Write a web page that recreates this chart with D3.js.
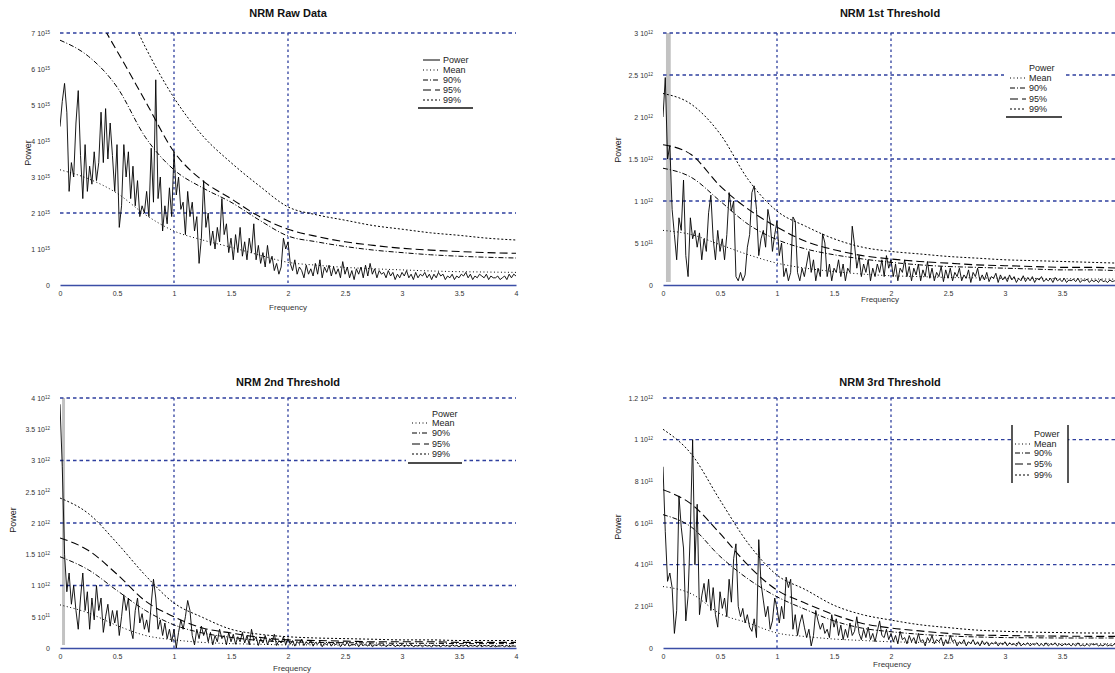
<!DOCTYPE html>
<html>
<head>
<meta charset="utf-8">
<script src="https://cdn.jsdelivr.net/npm/d3@7"></script>
<style>
  body { margin: 0; background: #fff; }
  svg { display: block; font-family: "Liberation Sans", Arial, sans-serif; }
</style>
</head>
<body>
<svg id="chart" width="1115" height="673"></svg>
<script>
// ---------- shared axes ----------
const freqTicks = [0, 0.5, 1, 1.5, 2, 2.5, 3, 3.5, 4];
const freqTickLabels = ["0", "0.5", "1", "1.5", "2", "2.5", "3", "3.5", "4"];
const freqGrid = [1, 2];
// frequencies at which the significance curves are given
const curveFreq = [0, 0.25, 0.5, 0.75, 1, 1.25, 1.5, 1.75, 2, 2.25, 2.5, 2.75, 3, 3.25, 3.5, 3.75, 4];
// power spectra are sampled every 0.02 cycles
const powerStep = 0.02;

// ---------- NRM raw data (units of 1e15) ----------
const rawTicks = [0, 1, 2, 3, 4, 5, 6, 7];
const rawTickLabels = [["0", ""], ["1", "15"], ["2", "15"], ["3", "15"], ["4", "15"], ["5", "15"], ["6", "15"], ["7", "15"]];
const rawGrid = [2, 7];
const rawMean = [3.2, 2.95, 2.55, 1.95, 1.5, 1.25, 1.05, 0.83, 0.63, 0.55, 0.49, 0.45, 0.42, 0.39, 0.37, 0.36, 0.35];
const raw90 = [6.8, 6.35, 5.5, 4.1, 3.2, 2.7, 2.3, 1.8, 1.36, 1.2, 1.07, 0.97, 0.9, 0.84, 0.8, 0.77, 0.75];
const raw95 = [8.6, 7.8, 6.5, 5.1, 3.7, 2.9, 2.4, 1.9, 1.55, 1.35, 1.2, 1.1, 1.02, 0.97, 0.93, 0.9, 0.88];
const raw99 = [10.5, 9.8, 8.3, 6.6, 5.2, 4.15, 3.4, 2.75, 2.17, 1.95, 1.8, 1.65, 1.55, 1.45, 1.38, 1.3, 1.25];
const rawPower = [
  4.4, 5.1, 5.6, 4.8, 2.6, 3.4, 3.0, 4.5, 5.4, 3.6,
  2.4, 3.9, 2.6, 3.3, 2.8, 3.7, 2.9, 3.4, 4.8, 3.4,
  4.9, 3.5, 4.5, 3.6, 2.6, 3.9, 1.6, 2.2, 3.9, 3.0,
  3.7, 2.4, 3.3, 2.2, 2.9, 1.9, 2.2, 2.0, 2.6, 1.9,
  3.8, 2.3, 5.7, 2.4, 3.0, 1.5, 2.2, 1.7, 2.7, 1.9,
  3.7, 2.5, 3.0, 2.1, 2.3, 1.4, 2.6, 1.9, 2.3, 1.5,
  1.9, 0.6, 1.3, 2.9, 1.6, 2.0, 1.1, 1.5, 1.0, 1.6,
  1.2, 2.4, 1.4, 1.7, 0.9, 1.3, 0.7, 1.4, 0.9, 1.6,
  0.8, 1.2, 0.7, 1.3, 0.9, 1.7, 0.7, 1.1, 0.6, 0.9,
  0.5, 1.1, 0.6, 0.8, 0.4, 0.6, 0.3, 0.5, 1.3, 1.0,
  1.2, 0.6, 0.4, 0.7, 0.3, 0.5, 0.4, 0.2, 0.55, 0.3,
  0.45, 0.25, 0.6, 0.3, 0.7, 0.2, 0.5, 0.35, 0.55, 0.25,
  0.5, 0.3, 0.45, 0.2, 0.65, 0.3, 0.5, 0.2, 0.4, 0.15,
  0.45, 0.3, 0.5, 0.2, 0.55, 0.25, 0.6, 0.3, 0.45, 0.2,
  0.4, 0.3, 0.35, 0.2, 0.4, 0.25, 0.35, 0.15, 0.3, 0.2,
  0.35, 0.25, 0.4, 0.2, 0.3, 0.15, 0.35, 0.2, 0.3, 0.25,
  0.35, 0.2, 0.3, 0.15, 0.3, 0.2, 0.35, 0.25, 0.3, 0.15,
  0.25, 0.2, 0.3, 0.15, 0.25, 0.2, 0.3, 0.25, 0.35, 0.2,
  0.3, 0.15, 0.25, 0.2, 0.3, 0.25, 0.2, 0.3, 0.15, 0.25,
  0.2, 0.2, 0.25, 0.15, 0.2, 0.25, 0.15, 0.3, 0.2, 0.3,
  0.25
];

// ---------- NRM 1st threshold (units of 1e12) ----------
const t1Ticks = [0, 0.5, 1, 1.5, 2, 2.5, 3];
const t1TickLabels = [["0", ""], ["5", "11"], ["1", "12"], ["1.5", "12"], ["2", "12"], ["2.5", "12"], ["3", "12"]];
const t1Grid = [1, 1.5, 2.5, 3];
const t1Band = [0.026, 0.068];
const t1Mean = [0.65, 0.6, 0.48, 0.36, 0.26, 0.2, 0.16, 0.13, 0.11, 0.1, 0.09, 0.085, 0.08, 0.078, 0.075, 0.072, 0.07];
const t190 = [1.39, 1.28, 1.0, 0.72, 0.54, 0.43, 0.36, 0.31, 0.27, 0.24, 0.22, 0.21, 0.2, 0.19, 0.18, 0.18, 0.17];
const t195 = [1.67, 1.55, 1.18, 0.9, 0.69, 0.52, 0.42, 0.35, 0.31, 0.28, 0.26, 0.24, 0.23, 0.22, 0.21, 0.21, 0.2];
const t199 = [2.28, 2.15, 1.8, 1.25, 0.88, 0.7, 0.55, 0.45, 0.4, 0.37, 0.34, 0.32, 0.3, 0.29, 0.28, 0.27, 0.26];
const t1Power = [
  2.0, 2.47, 1.5, 1.66, 0.9, 0.6, 0.3, 0.8, 0.65, 1.25,
  0.35, 0.1, 0.8, 0.55, 0.65, 0.45, 0.62, 0.3, 0.55, 0.4,
  0.86, 1.07, 0.55, 0.3, 0.65, 0.4, 0.55, 0.3, 0.6, 1.1,
  0.88, 1.0, 0.1, 0.05, 0.15, 0.05, 0.12, 0.45, 0.6, 1.1,
  1.18, 0.9, 0.35, 0.55, 0.65, 0.45, 0.9, 0.75, 0.4, 0.6,
  0.76, 0.35, 0.5, 0.1, 0.2, 0.05, 0.15, 0.81, 0.76, 0.15,
  0.05, 0.2, 0.1, 0.25, 0.4, 0.15, 0.3, 0.05, 0.2, 0.1,
  0.61, 0.5, 0.1, 0.25, 0.05, 0.2, 0.15, 0.3, 0.1, 0.25,
  0.05, 0.2, 0.15, 0.7, 0.48, 0.2, 0.35, 0.1, 0.25, 0.15,
  0.3, 0.05, 0.2, 0.1, 0.25, 0.15, 0.3, 0.1, 0.35, 0.2,
  0.3, 0.1, 0.25, 0.05, 0.2, 0.15, 0.3, 0.1, 0.22, 0.05,
  0.2, 0.12, 0.25, 0.05, 0.18, 0.1, 0.28, 0.08, 0.2, 0.05,
  0.15, 0.1, 0.22, 0.04, 0.18, 0.08, 0.2, 0.05, 0.15, 0.1,
  0.2, 0.05, 0.12, 0.08, 0.18, 0.03, 0.15, 0.1, 0.2, 0.05,
  0.12, 0.06, 0.15, 0.04, 0.1, 0.08, 0.14, 0.03, 0.12, 0.06,
  0.1, 0.04, 0.12, 0.06, 0.1, 0.03, 0.08, 0.05, 0.11, 0.04,
  0.09, 0.05, 0.1, 0.03, 0.08, 0.06, 0.1, 0.04, 0.07, 0.05,
  0.08, 0.03, 0.09, 0.05, 0.07, 0.04, 0.08, 0.03, 0.06, 0.05,
  0.07, 0.04, 0.08, 0.03, 0.06, 0.05, 0.07, 0.03, 0.06, 0.04,
  0.06, 0.03, 0.07, 0.04, 0.05, 0.03, 0.06, 0.04, 0.05, 0.03,
  0.05
];

// ---------- NRM 2nd threshold (units of 1e12) ----------
const t2Ticks = [0, 0.5, 1, 1.5, 2, 2.5, 3, 3.5, 4];
const t2TickLabels = [["0", ""], ["5", "11"], ["1", "12"], ["1.5", "12"], ["2", "12"], ["2.5", "12"], ["3", "12"], ["3.5", "12"], ["4", "12"]];
const t2Grid = [1, 2, 3, 4];
const t2Band = [0.018, 0.044];
const t2Mean = [0.69, 0.56, 0.36, 0.2, 0.13, 0.09, 0.07, 0.06, 0.05, 0.05, 0.045, 0.045, 0.04, 0.04, 0.04, 0.04, 0.04];
const t290 = [1.46, 1.25, 0.92, 0.6, 0.37, 0.24, 0.17, 0.12, 0.1, 0.09, 0.085, 0.08, 0.075, 0.075, 0.07, 0.07, 0.07];
const t295 = [1.76, 1.56, 1.18, 0.75, 0.5, 0.32, 0.24, 0.17, 0.13, 0.12, 0.11, 0.1, 0.1, 0.1, 0.09, 0.09, 0.09];
const t299 = [2.4, 2.15, 1.68, 1.16, 0.72, 0.49, 0.3, 0.22, 0.18, 0.16, 0.15, 0.14, 0.13, 0.13, 0.12, 0.12, 0.12];
const t2Power = [
  3.9, 2.9, 1.5, 0.9, 1.2, 0.7, 1.0, 0.6, 0.3, 0.8,
  1.2, 0.6, 0.9, 0.3, 0.8, 0.45, 1.0, 0.6, 0.8, 0.25,
  0.5, 0.7, 0.35, 0.6, 0.4, 0.6, 0.2, 0.5, 0.85, 0.6,
  0.8, 0.3, 0.15, 0.6, 0.8, 0.4, 0.55, 0.3, 0.45, 0.25,
  0.7, 1.1, 0.8, 0.3, 0.45, 0.2, 0.4, 0.15, 0.3, 0.1,
  0.3, 0.0, 0.25, 0.45, 0.3, 0.5, 0.76, 0.6, 0.2, 0.05,
  0.3, 0.15, 0.35, 0.2, 0.3, 0.1, 0.25, 0.05, 0.2, 0.1,
  0.3, 0.15, 0.2, 0.05, 0.25, 0.1, 0.22, 0.06, 0.18, 0.1,
  0.25, 0.08, 0.2, 0.05, 0.3, 0.12, 0.18, 0.04, 0.15, 0.08,
  0.2, 0.05, 0.15, 0.1, 0.22, 0.04, 0.12, 0.08, 0.18, 0.05,
  0.15, 0.06, 0.12, 0.03, 0.1, 0.07, 0.14, 0.04, 0.1, 0.06,
  0.12, 0.03, 0.09, 0.06, 0.11, 0.02, 0.08, 0.05, 0.1, 0.03,
  0.08, 0.05, 0.1, 0.02, 0.07, 0.04, 0.09, 0.03, 0.06, 0.05,
  0.08, 0.02, 0.07, 0.04, 0.06, 0.03, 0.08, 0.02, 0.05, 0.04,
  0.07, 0.03, 0.06, 0.02, 0.05, 0.04, 0.06, 0.02, 0.05, 0.03,
  0.06, 0.02, 0.05, 0.03, 0.06, 0.02, 0.04, 0.03, 0.05, 0.02,
  0.05, 0.03, 0.04, 0.02, 0.05, 0.03, 0.04, 0.02, 0.05, 0.03,
  0.04, 0.02, 0.05, 0.03, 0.04, 0.02, 0.04, 0.03, 0.05, 0.02,
  0.04, 0.03, 0.04, 0.02, 0.05, 0.02, 0.04, 0.03, 0.04, 0.02,
  0.04, 0.02, 0.03, 0.03, 0.04, 0.02, 0.04, 0.02, 0.03, 0.03,
  0.03
];

// ---------- NRM 3rd threshold (units of 1e11) ----------
const t3Ticks = [0, 2, 4, 6, 8, 10, 12];
const t3TickLabels = [["0", ""], ["2", "11"], ["4", "11"], ["6", "11"], ["8", "11"], ["1", "12"], ["1.2", "12"]];
const t3Grid = [4, 6, 10, 12];
const t3Mean = [2.95, 2.6, 1.65, 1.2, 0.72, 0.55, 0.43, 0.36, 0.3, 0.27, 0.25, 0.23, 0.22, 0.21, 0.2, 0.2, 0.2];
const t390 = [6.4, 5.8, 4.4, 3.3, 2.46, 1.85, 1.3, 0.95, 0.78, 0.66, 0.58, 0.53, 0.5, 0.49, 0.48, 0.48, 0.48];
const t395 = [7.6, 6.9, 5.5, 3.95, 2.78, 2.15, 1.6, 1.18, 0.96, 0.82, 0.7, 0.62, 0.6, 0.58, 0.57, 0.56, 0.56];
const t399 = [10.5, 9.3, 7.1, 5.0, 3.5, 2.8, 2.05, 1.6, 1.34, 1.12, 0.98, 0.86, 0.8, 0.76, 0.74, 0.72, 0.72];
const t3Power = [
  8.7, 5.6, 3.2, 3.6, 2.9, 0.7, 1.8, 7.3, 5.8, 4.8,
  1.3, 2.5, 5.7, 10.0, 4.0, 6.9, 1.6, 2.5, 3.1, 2.2,
  3.3, 1.8, 2.9, 1.6, 1.0, 2.7, 1.9, 2.4, 1.5, 3.3,
  2.2, 4.3, 5.0, 2.0, 1.5, 1.9, 1.2, 1.6, 1.0, 0.8,
  1.4, 0.5, 5.2, 3.1, 2.3, 1.5, 2.0, 0.9, 1.3, 2.4,
  1.9, 1.2, 2.0, 1.4, 3.4, 2.9, 3.3, 0.9, 1.6, 0.6,
  1.2, 1.6, 1.0, 0.5, 0.9, 0.1, 0.6, 1.8, 1.3, 0.9,
  1.2, 0.7, 0.9, 0.5, 1.6, 1.0, 1.4, 0.6, 1.1, 0.4,
  0.9, 0.5, 1.2, 0.6, 0.8, 1.5, 0.7, 0.4, 0.9, 0.5,
  1.0, 0.4, 0.7, 0.3, 0.8, 1.3, 0.6, 0.5, 0.9, 0.4,
  0.7, 0.3, 0.6, 0.2, 0.8, 0.4, 0.5, 0.2, 0.6, 0.3,
  0.5, 0.2, 0.7, 0.3, 0.4, 0.1, 0.5, 0.3, 0.6, 0.2,
  0.4, 0.3, 0.5, 0.1, 0.4, 0.2, 0.6, 0.3, 0.4, 0.1,
  0.3, 0.2, 0.4, 0.1, 0.3, 0.2, 0.4, 0.15, 0.3, 0.1,
  0.35, 0.15, 0.3, 0.1, 0.25, 0.2, 0.3, 0.1, 0.25, 0.15,
  0.3, 0.1, 0.25, 0.15, 0.2, 0.1, 0.3, 0.1, 0.2, 0.15,
  0.25, 0.1, 0.2, 0.15, 0.25, 0.1, 0.2, 0.1, 0.25, 0.1,
  0.2, 0.15, 0.25, 0.1, 0.2, 0.1, 0.2, 0.15, 0.2, 0.1,
  0.2, 0.1, 0.25, 0.1, 0.15, 0.1, 0.2, 0.1, 0.2, 0.15,
  0.2, 0.1, 0.15, 0.1, 0.2, 0.1, 0.15, 0.1, 0.2, 0.1,
  0.15
];

const legendNames = ["Power", "Mean", "90%", "95%", "99%"];

// ---------- line styles ----------
const styles = {
  power: { dash: null, width: 1 },
  mean:  { dash: "1,2.5", width: 1 },
  p90:   { dash: "5,2,1,2", width: 1 },
  p95:   { dash: "8,4", width: 1.1 },
  p99:   { dash: "2,2", width: 1 }
};
const gridColor = "#2e3f9e";
const axisColor = "#3b4ea6";
const pageWidth = 1115;

// ---------- panel layout ----------
const panels = [
  { id: "raw", title: "NRM Raw Data", x0: 60, x1: 516, yTop: 33, yBot: 285, yMax: 7,
    ticks: rawTicks, tickLabels: rawTickLabels, grid: rawGrid, band: null,
    mean: rawMean, p90: raw90, p95: raw95, p99: raw99, power: rawPower,
    titleXY: [288, 17], xLabelXY: [288, 310], yLabelXY: [31, 153],
    legend: { x: 416, y: 50, w: 59, rows: [60, 70, 80, 90, 100], under: 108, sx: 423, tx: 443, powerSample: true, sides: false } },
  { id: "t1", title: "NRM 1st Threshold", x0: 663, x1: 1119, yTop: 33, yBot: 285, yMax: 3,
    ticks: t1Ticks, tickLabels: t1TickLabels, grid: t1Grid, band: t1Band,
    mean: t1Mean, p90: t190, p95: t195, p99: t199, power: t1Power,
    titleXY: [890, 17], xLabelXY: [880, 302], yLabelXY: [621, 150],
    legend: { x: 1004, y: 58, w: 60, rows: [68, 78, 88, 99, 109], under: 117, sx: 1010, tx: 1029, powerSample: false, sides: false } },
  { id: "t2", title: "NRM 2nd Threshold", x0: 60, x1: 516, yTop: 398, yBot: 648, yMax: 4,
    ticks: t2Ticks, tickLabels: t2TickLabels, grid: t2Grid, band: t2Band,
    mean: t2Mean, p90: t290, p95: t295, p99: t299, power: t2Power,
    titleXY: [288, 386], xLabelXY: [292, 671], yLabelXY: [16, 520],
    legend: { x: 406, y: 404, w: 58, rows: [414, 423, 433, 444, 454], under: 463, sx: 412, tx: 432, powerSample: false, sides: false } },
  { id: "t3", title: "NRM 3rd Threshold", x0: 663, x1: 1119, yTop: 398, yBot: 648, yMax: 12,
    ticks: t3Ticks, tickLabels: t3TickLabels, grid: t3Grid, band: null,
    mean: t3Mean, p90: t390, p95: t395, p99: t399, power: t3Power,
    titleXY: [890, 386], xLabelXY: [892, 667], yLabelXY: [621, 527],
    legend: { x: 1012, y: 425, w: 56, rows: [434, 444, 453, 464, 475], under: null, bottom: 483, sx: 1015, tx: 1034, powerSample: false, sides: true } }
];

const svg = d3.select("#chart");
const defs = svg.append("defs");

panels.forEach(p => {
  const x = d3.scaleLinear().domain([0, 4]).range([p.x0, p.x1]);
  const y = d3.scaleLinear().domain([0, p.yMax]).range([p.yBot, p.yTop]);
  const g = svg.append("g").attr("class", "panel-" + p.id);

  defs.append("clipPath").attr("id", "clip-" + p.id)
    .append("rect")
    .attr("x", p.x0).attr("y", p.yTop)
    .attr("width", Math.min(p.x1, pageWidth) - p.x0).attr("height", p.yBot - p.yTop);

  // grey marker band near zero frequency
  if (p.band) {
    g.append("rect")
      .attr("x", x(p.band[0])).attr("width", x(p.band[1]) - x(p.band[0]))
      .attr("y", p.yTop).attr("height", p.yBot - p.yTop - 3)
      .attr("fill", "#c2c2c2");
  }

  // dashed grid lines
  g.selectAll(".hgrid").data(p.grid).join("line")
    .attr("x1", p.x0).attr("x2", p.x1)
    .attr("y1", d => y(d)).attr("y2", d => y(d))
    .attr("stroke", gridColor).attr("stroke-width", 1.3).attr("stroke-dasharray", "3.5,3");
  g.selectAll(".vgrid").data(freqGrid).join("line")
    .attr("x1", d => x(d)).attr("x2", d => x(d))
    .attr("y1", p.yTop).attr("y2", p.yBot)
    .attr("stroke", gridColor).attr("stroke-width", 1.3).attr("stroke-dasharray", "2.5,3");

  // x axis (solid baseline, no tick marks); ticks past the page edge are left out
  const visibleTicks = freqTicks.filter(f => x(f) < pageWidth - 4);
  const xAxis = d3.axisBottom(x).tickValues(visibleTicks).tickSize(0).tickPadding(6)
    .tickFormat(d => freqTickLabels[freqTicks.indexOf(d)]);
  const xa = g.append("g").attr("transform", `translate(0,${p.yBot})`).call(xAxis);
  xa.select(".domain").attr("stroke", axisColor).attr("stroke-width", 1.6);
  xa.selectAll("text").attr("font-size", 7).attr("fill", "#333")
    .attr("font-family", "Liberation Sans, Arial, sans-serif");

  // y axis labels with powers of ten
  const yAxis = d3.axisLeft(y).tickValues(p.ticks).tickSize(0).tickPadding(10).tickFormat("");
  const ya = g.append("g").attr("transform", `translate(${p.x0},0)`).call(yAxis);
  ya.select(".domain").remove();
  ya.selectAll(".tick text").each(function (d, i) {
    const t = d3.select(this)
      .attr("font-size", 7).attr("fill", "#333")
      .attr("font-family", "Liberation Sans, Arial, sans-serif");
    const [m, e] = p.tickLabels[i];
    if (!e) { t.text(m); return; }
    t.append("tspan").text(m + " 10");
    t.append("tspan").attr("dy", "-0.45em").attr("font-size", 4.5).text(e);
  });

  // significance curves and spectrum
  const clipped = g.append("g").attr("clip-path", `url(#clip-${p.id})`);
  const curveLine = d3.line()
    .x((d, i) => x(curveFreq[i])).y(d => y(d))
    .curve(d3.curveMonotoneX);
  [["mean", p.mean], ["p90", p.p90], ["p95", p.p95], ["p99", p.p99]].forEach(([k, vals]) => {
    clipped.append("path").datum(vals)
      .attr("d", curveLine)
      .attr("fill", "none").attr("stroke", "#000")
      .attr("stroke-width", styles[k].width)
      .attr("stroke-dasharray", styles[k].dash);
  });
  const powerLine = d3.line()
    .x((d, i) => x(i * powerStep)).y(d => y(d));
  clipped.append("path").datum(p.power)
    .attr("d", powerLine)
    .attr("fill", "none").attr("stroke", "#000").attr("stroke-width", 0.9);

  // legend
  const L = p.legend;
  const lg = g.append("g");
  const bottom = L.under != null ? L.under : L.bottom;
  lg.append("rect").attr("x", L.x).attr("y", L.y).attr("width", L.w).attr("height", bottom - L.y)
    .attr("fill", "#fff");
  if (L.under != null) {
    lg.append("line").attr("x1", L.x + 2).attr("x2", L.x + L.w - 2)
      .attr("y1", L.under).attr("y2", L.under).attr("stroke", "#111").attr("stroke-width", 1.5);
  }
  if (L.sides) {
    [L.x, L.x + L.w].forEach(sx => {
      lg.append("line").attr("x1", sx).attr("x2", sx).attr("y1", L.y).attr("y2", L.bottom)
        .attr("stroke", "#111").attr("stroke-width", 1.4);
    });
  }
  const keys = ["power", "mean", "p90", "p95", "p99"];
  legendNames.forEach((name, i) => {
    const ry = L.rows[i];
    if (i > 0 || L.powerSample) {
      lg.append("line").attr("x1", L.sx).attr("x2", L.tx - 3).attr("y1", ry).attr("y2", ry)
        .attr("stroke", "#000").attr("stroke-width", 1)
        .attr("stroke-dasharray", styles[keys[i]].dash);
    }
    lg.append("text").attr("x", L.tx).attr("y", ry).attr("dy", "0.35em")
      .attr("font-size", 9).attr("fill", "#222").text(name);
  });

  // titles and axis names
  g.append("text").attr("x", p.titleXY[0]).attr("y", p.titleXY[1])
    .attr("text-anchor", "middle").attr("font-size", 11).attr("font-weight", "bold")
    .attr("fill", "#111").text(p.title);
  g.append("text").attr("x", p.xLabelXY[0]).attr("y", p.xLabelXY[1])
    .attr("text-anchor", "middle").attr("font-size", 8).attr("fill", "#333").text("Frequency");
  g.append("text")
    .attr("transform", `translate(${p.yLabelXY[0]},${p.yLabelXY[1]}) rotate(-90)`)
    .attr("text-anchor", "middle").attr("font-size", 9).attr("fill", "#222").text("Power");
});
</script>
</body>
</html>
